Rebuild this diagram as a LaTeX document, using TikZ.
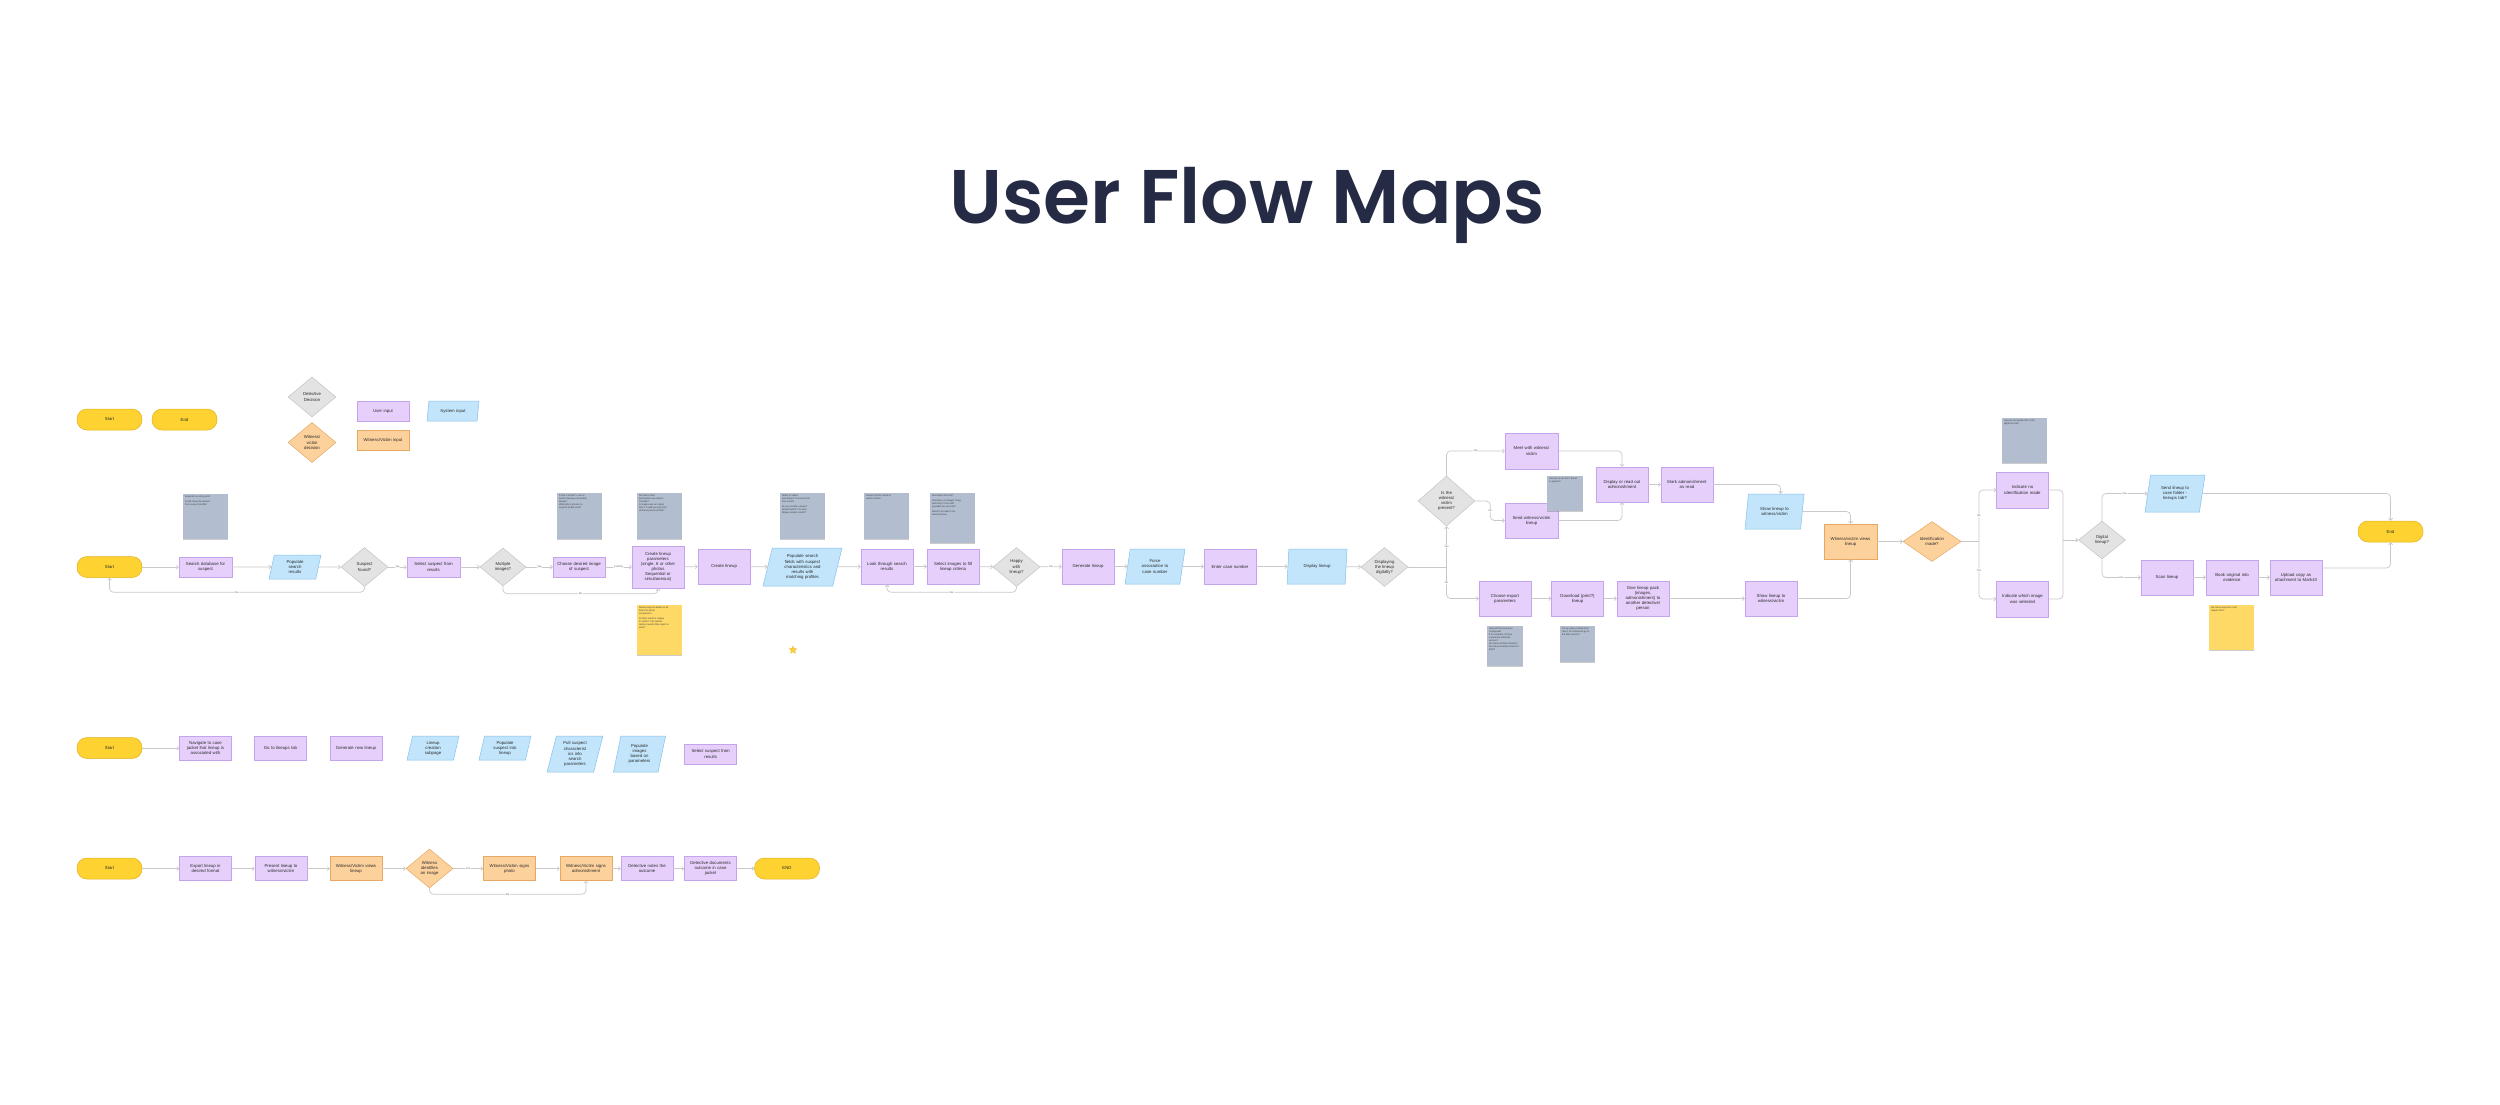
\documentclass[tikz,border=0pt]{standalone}
\usepackage{fontspec}
\setmainfont{Liberation Sans}
\newfontfamily\titlefont{Poppins SemiBold}
\usetikzlibrary{shapes.geometric,arrows.meta,calc,shadows}
\definecolor{termY}{HTML}{FDD231}
\definecolor{termB}{HTML}{E2B11E}
\definecolor{purF}{HTML}{E6D0FB}
\definecolor{purB}{HTML}{C4A4EA}
\definecolor{bluF}{HTML}{C2E5FB}
\definecolor{bluB}{HTML}{86C1EA}
\definecolor{orF}{HTML}{FDD19C}
\definecolor{orB}{HTML}{E6A862}
\definecolor{grF}{HTML}{E3E3E3}
\definecolor{grB}{HTML}{C4C4C4}
\definecolor{stkG}{HTML}{B2BDCF}
\definecolor{stkY}{HTML}{FED966}
\definecolor{lineC}{HTML}{C9C9C9}
\definecolor{titleC}{HTML}{252B45}
\definecolor{txtC}{HTML}{2A2A2A}
\newcommand\bfnt{\fontsize{4.3}{5.1}\selectfont}
\newcommand\sfnt{\fontsize{2.4}{3.0}\selectfont}
\newcommand\lfnt{\fontsize{2.6}{3}\selectfont}
\newcommand\stickytext[3]{\parbox[c][#2][t]{#1}{\raggedright #3}}
\tikzset{
  base/.style={line width=0.5pt, inner sep=0.6pt, align=center, font=\bfnt, text=txtC},
  term/.style={base, rectangle, rounded corners=10pt, fill=termY, draw=termB, minimum width=65pt, minimum height=21pt},
  ubox/.style={base, rectangle, fill=purF, draw=purB, minimum width=52pt, minimum height=20pt, text width=49pt},
  obox/.style={ubox, fill=orF, draw=orB},
  sbox/.style={base, trapezium, trapezium left angle=70, trapezium right angle=110, trapezium stretches body,
     fill=bluF, draw=bluB, minimum width=52pt, minimum height=20pt, text width=36pt},
  dec/.style={base, diamond, aspect=1.2, inner sep=0pt, fill=grF, draw=grB, minimum width=47pt, minimum height=39pt, text width=22pt},
  odec/.style={dec, fill=orF, draw=orB},
  sticky/.style={rectangle, fill=stkG, inner sep=2pt, font=\sfnt, text=black!75,
     drop shadow={shadow xshift=0.4pt, shadow yshift=-0.6pt, opacity=0.2, fill=black}},
  ysticky/.style={sticky, fill=stkY},
  conn/.style={draw=lineC, line width=0.7pt, -{Straight Barb[length=2pt,width=4pt]}, rounded corners=4pt},
  plain/.style={draw=lineC, line width=0.7pt, rounded corners=4pt},
  lbl/.style={fill=white, font=\lfnt, text=black!60, inner sep=0.6pt},
}
\begin{document}
\begin{tikzpicture}[x=1pt, y=-1pt]
\useasboundingbox (0,0) rectangle (2500,1105);
\fill[white] (0,0) rectangle (2500,1105);

% Title
\node[font=\titlefont\fontsize{76}{86}\selectfont, text=titleC, anchor=base, inner sep=0] (title) at (1247,223) {User Flow Maps};

% Legend
\node[term] (lgStart) at (109.5,419.5) {Start};
\node[term] (lgEnd) at (184.5,419.5) {End};
\node[dec, minimum width=48pt, minimum height=40pt] (lgDec) at (312,397) {Detective\\Decision};
\node[odec, minimum width=48pt, minimum height=40pt] (lgWit) at (312,442.5) {Witness/\\victim\\decision};
\node[ubox] (lgUser) at (383,411) {User input};
\node[obox] (lgWI) at (383,440) {Witness/Victim input};
\node[sbox] (lgSys) at (453,411) {System input};

% Row 1
\node[term] (s1) at (109.5,567) {Start};
\node[ubox, minimum width=53pt] (a1) at (205.5,567) {Search database for\\suspect};
\node[sticky] (n1) at (205.5,516.5) {\stickytext{41pt}{41pt}{Depends on entry point.\\[2pt]Could lineup be started\\from suspect profile?}};
\node[sbox, minimum height=24pt] (a2) at (295,567) {Populate\\search\\results};
\node[dec] (d1) at (364.5,567) {Suspect\\found?};
\node[ubox, minimum width=53pt] (a3) at (433.5,567) {Select suspect from\\results};
\node[dec, minimum width=46pt, minimum height=38pt] (d2) at (503,567) {Multiple\\images?};
\node[ubox] (a4) at (579,567) {Choose desired image\\of suspect};
\node[sticky] (n2) at (579.5,516) {\stickytext{41pt}{42pt}{Is this a modal? Look at\\assets display and update\\design?\\What info is shown on\\suspect profile card?}};
\node[ubox, minimum height=42pt] (a5) at (658,567) {Create lineup\\parameters\\(single, 6 or other\\photos\\Sequential or\\simultaneous)};
\node[sticky] (n3) at (659.5,516) {\stickytext{41pt}{42pt}{Are there other\\parameters we need to\\consider?\\Is single even an option\\here? Could you just print\\all these person profile?}};
\node[ysticky] (n3y) at (659.5,630) {\stickytext{41pt}{46pt}{Need suspects details at all\\times for photo\\comparison.\\[2pt]Confirm result is unique\\to victim? Can restrict\\options results than signs to\\each?}};
\node[ubox, minimum height=35pt] (a6) at (724,566.5) {Create lineup};
\node[sbox, minimum width=79pt, minimum height=38pt, text width=52pt] (a7) at (802.5,567) {Populate search\\fields with suspect\\characteristics and\\results with\\matching profiles};
\node[sticky] (n4) at (802.5,516) {\stickytext{41pt}{42pt}{Ability to adjust\\parameters to show more/\\less results.\\[2pt]Do we provide a search\\similar button? Or auto-\\display similar results?}};
\node[star, star points=5, star point ratio=2.3, fill=termY, draw=termB, line width=0.3pt, minimum size=8pt, inner sep=0pt] (star) at (793,650) {};
\node[ubox, minimum height=35pt] (a8) at (887,566.5) {Look through search\\results};
\node[sticky] (n5) at (886.5,516) {\stickytext{41pt}{42pt}{Suspect photo needs to\\remain visible}};
\node[ubox, minimum height=35pt] (a9) at (953,566.5) {Select images to fill\\lineup criteria};
\node[sticky] (n6) at (952.5,518) {\stickytext{41pt}{46pt}{How does this look?\\[2pt]Checkbox on image? Drag\\and drop? Fill \& add\\populate line up area?\\[2pt]Need to be able to de-\\select/remove}};
\node[dec] (d3) at (1016.5,567) {Happy\\with\\lineup?};
\node[ubox, minimum height=35pt] (a10) at (1088,566.5) {Generate lineup};
\node[sbox, minimum width=60pt, minimum height=35pt, text width=40pt] (a11) at (1155,566.5) {Force\\association to\\case number};
\node[ubox, minimum height=35pt] (a12) at (1230,566.5) {Enter case number};
\node[sbox, minimum width=60pt, minimum height=35pt, text width=40pt] (a13) at (1317,566.5) {Display lineup};
\node[dec] (d4) at (1384.5,567) {Displaying\\the lineup\\digitally?};

% Branch region
\node[dec, minimum width=57pt, minimum height=50pt] (d5) at (1446.5,501) {Is the\\witness/\\victim\\present?};
\node[ubox, minimum width=53pt, minimum height=36pt] (b1) at (1531.5,451) {Meet with witness/\\victim};
\node[ubox, minimum width=53pt, minimum height=35pt] (b2) at (1531.5,520.5) {Send witness/victim\\lineup};
\node[sticky] (n7) at (1565,493.5) {\stickytext{32pt}{31pt}{How do we do this? Email\\or system?}};
\node[ubox, minimum height=35pt] (b3) at (1622,484.5) {Display or read out\\admonishment};
\node[ubox, minimum height=35pt] (b4) at (1687,484.5) {Mark admonishment\\as read};
\node[sbox, minimum width=59pt, minimum height=35pt, text width=40pt] (b5) at (1774.5,511.5) {Show lineup to\\witness/victim};
\node[obox, minimum width=53pt, minimum height=35pt] (b6) at (1850.5,541.5) {Witness/victim views\\lineup};
\node[ubox, minimum height=35pt] (c1) at (1505,598.5) {Choose export\\parameters};
\node[ubox, minimum height=35pt] (c2) at (1577.5,598.5) {Download (print?)\\lineup};
\node[ubox, minimum height=35pt] (c3) at (1643,598.5) {Give lineup pack\\(images,\\admonishment) to\\another detective/\\person};
\node[ubox, minimum height=35pt] (c4) at (1771,598.5) {Show lineup to\\witness/victim};
\node[sticky] (n8) at (1505,646) {\stickytext{32pt}{36pt}{How will this lineup be\\configured?\\If it's emailed, is there\\a separate attached\\version?\\Are there printed versions?\\Are there emailed versions?\\Both?}};
\node[sticky] (n9) at (1577.5,644) {\stickytext{31pt}{32pt}{Do we allow printing from\\here? Or should we go to\\the files section?}};
\node[odec, minimum width=58pt, minimum height=40pt, text width=28pt] (d6) at (1932,541.5) {Identification\\made?};
\node[ubox, minimum height=36pt] (e1) at (2022.5,490) {Indicate no\\identification made};
\node[sticky] (n10) at (2024.5,440.5) {\stickytext{41pt}{41pt}{How do we handle this in the\\digital format?}};
\node[ubox, minimum height=36pt] (e2) at (2022.5,599) {Indicate which image\\was selected};
\node[dec, minimum height=38pt] (d7) at (2102,540) {Digital\\lineup?};
\node[sbox, minimum width=60pt, minimum height=37pt, text width=40pt] (f1) at (2175,493.5) {Send lineup to\\case folder -\\lineups tab?};
\node[term] (endR) at (2390.5,531.5) {End};
\node[ubox, minimum height=35pt] (g1) at (2167,577.5) {Scan lineup};
\node[ubox, minimum height=35pt] (g2) at (2232,577.5) {Book original into\\evidence};
\node[ubox, minimum height=35pt] (g3) at (2296,577.5) {Upload copy as\\attachment to Mark43};
\node[ysticky] (n11) at (2231.5,627.5) {\stickytext{41pt}{41pt}{Are there ways the court\\require this?}};

% Row 2
\node[term] (s2) at (109.5,748) {Start};
\node[ubox, minimum height=24pt] (r1) at (205.5,748) {Navigate to case\\jacket that lineup is\\associated with};
\node[ubox, minimum height=24pt] (r2) at (280.5,748) {Go to lineups tab};
\node[ubox, minimum height=24pt] (r3) at (356,748) {Generate new lineup};
\node[sbox, minimum height=24pt] (r4) at (433,748) {Lineup\\creation\\subpage};
\node[sbox, minimum height=24pt] (r5) at (505,748) {Populate\\suspect into\\lineup};
\node[sbox, minimum height=36pt] (r6) at (575,754) {Pull suspect\\characterist\\ics into\\search\\parameters};
\node[sbox, minimum height=36pt] (r7) at (639.5,754) {Populate\\images\\based on\\parameters};
\node[ubox, minimum height=20pt] (r8) at (710.7,754) {Select suspect from\\results};

% Row 3
\node[term] (s3) at (109.5,868.5) {Start};
\node[ubox, minimum height=24pt] (t1) at (205.5,868.5) {Export lineup in\\desired format};
\node[ubox, minimum height=24pt] (t2) at (281,868.5) {Present lineup to\\witness/victim};
\node[obox, minimum height=24pt] (t3) at (356,868.5) {Witness/Victim views\\lineup};
\node[odec] (t4) at (429.5,868.5) {Witness\\identifies\\an image};
\node[obox, minimum height=24pt] (t5) at (509.5,868.5) {Witness/Victim signs\\photo};
\node[obox, minimum height=24pt] (t6) at (586,868.5) {Witness/Victim signs\\admonishment};
\node[ubox, minimum height=24pt] (t7) at (647,868.5) {Detective notes the\\outcome};
\node[ubox, minimum height=24pt] (t8) at (710.5,868.5) {Detective documents\\outcome in case\\jacket};
\node[term] (e3) at (787,868.5) {END};

% Connectors row 1
\draw[conn] (s1) -- (a1);
\draw[conn] (a1) -- (a2);
\draw[conn] (a2) -- (d1);
\draw[conn] (d1) -- (a3) node[midway,lbl]{Yes};
\draw[conn] (d1.south) -- ++(0,5.5) -| (s1.south) node[pos=0.25,lbl]{No};
\draw[conn] (a3) -- (d2);
\draw[conn] (d2) -- (a4) node[midway,lbl]{Yes};
\draw[conn] (d2.south) -- ++(0,7.5) -| (a5.south) node[pos=0.25,lbl]{No};
\draw[conn] (a4) -- (a5) node[midway,lbl]{Confirm};
\draw[conn] (a5) -- (a6);
\draw[conn] (a6) -- (a7);
\draw[conn] (a7) -- (a8);
\draw[conn] (a8) -- (a9);
\draw[conn] (a9) -- (d3);
\draw[conn] (d3) -- (a10) node[midway,lbl]{Yes};
\draw[conn] (d3.south) -- ++(0,5.5) -| (a8.south) node[pos=0.25,lbl]{No};
\draw[conn] (a10) -- (a11);
\draw[conn] (a11) -- (a12);
\draw[conn] (a12) -- (a13);
\draw[conn] (a13) -- (d4);

% Branch connectors
\coordinate (j1) at (1446.5,567);
\draw[plain] (d4.east) -- (j1);
\draw[conn] (j1) -- (d5.south) node[midway,lbl]{Yes};
\draw[conn] (j1) |- (c1.west) node[pos=0.25,lbl]{No};
\draw[conn] (d5.north) |- (b1.west) node[pos=0.75,lbl]{Yes};
\draw[conn] (d5.east) -- ++(15,0) |- (b2.west) node[pos=0.25,lbl]{No};
\draw[conn] (b1.east) -| (b3.north);
\draw[conn] (b2.east) -| (b3.south);
\draw[conn] (b3) -- (b4);
\draw[conn] (b4.east) -| ([xshift=6pt]b5.north);
\draw[conn] (b5.east) -| (b6.north);
\draw[conn] (c1) -- (c2);
\draw[conn] (c2) -- (c3);
\draw[conn] (c3) -- (c4);
\draw[conn] (c4.east) -| (b6.south);
\draw[conn] (b6) -- (d6);
\coordinate (j2) at (1979,541.5);
\draw[plain] (d6.east) -- (j2);
\draw[conn] (j2) |- (e1.west) node[pos=0.25,lbl]{No};
\draw[conn] (j2) |- (e2.west) node[pos=0.25,lbl]{Yes};
\coordinate (j3) at (2063,540);
\draw[plain] (e1.east) -| (j3);
\draw[plain] (e2.east) -| (j3);
\draw[conn] (j3) -- (d7.west);
\draw[conn] (d7.north) |- (f1.west) node[pos=0.75,lbl]{Yes};
\draw[conn] (f1.east) -| (endR.north);
\draw[conn] (d7.south) |- (g1.west) node[pos=0.75,lbl]{No};
\draw[conn] (g1) -- (g2);
\draw[conn] (g2) -- (g3);
\draw[conn] ([yshift=9.5pt]g3.east) -| (endR.south);

% Row 2 connectors
\draw[conn] (s2) -- (r1);

% Row 3 connectors
\draw[conn] (s3) -- (t1);
\draw[conn] (t1) -- (t2);
\draw[conn] (t2) -- (t3);
\draw[conn] (t3) -- (t4);
\draw[conn] (t4) -- (t5) node[midway,lbl]{Yes};
\draw[conn] (t4.south) -- ++(0,6) -| (t6.south) node[pos=0.25,lbl]{No};
\draw[conn] (t5) -- (t6);
\draw[conn] (t6) -- (t7);
\draw[conn] (t7) -- (t8);
\draw[conn] (t8) -- (e3);
\end{tikzpicture}
\end{document}
